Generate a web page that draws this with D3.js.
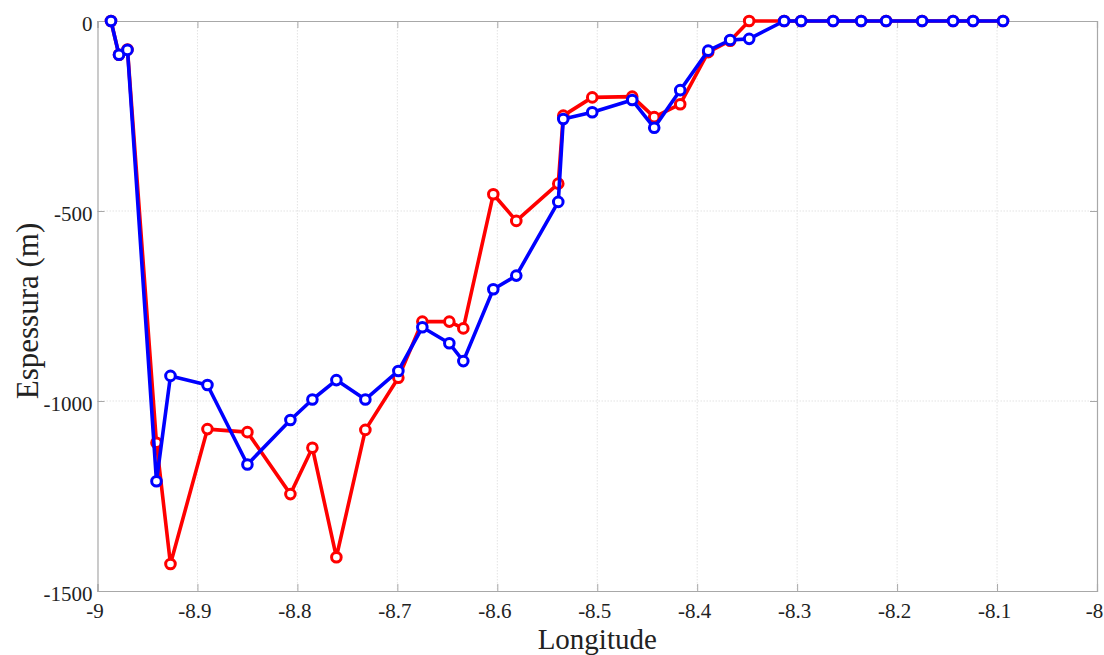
<!DOCTYPE html>
<html>
<head>
<meta charset="utf-8">
<script src="https://cdn.jsdelivr.net/npm/d3@7"></script>
<style>
  body { margin: 0; background: #fff; }
  svg { display: block; }
  text { font-family: "Times New Roman", "Liberation Serif", serif; fill: #222; }
</style>
</head>
<body>
<svg id="chart" width="1104" height="655"></svg>
<script>
// longitudes shared by both profiles
const lon = [-8.9865, -8.9785, -8.970, -8.941, -8.927, -8.890, -8.850, -8.807, -8.785, -8.761,
  -8.732, -8.699, -8.675, -8.648, -8.634, -8.604, -8.581, -8.539, -8.534, -8.505,
  -8.465, -8.443, -8.417, -8.389, -8.367, -8.348, -8.313, -8.296, -8.264, -8.236,
  -8.211, -8.175, -8.144, -8.124, -8.094]

const redDepth = [0, -89, -75, -1110, -1429, -1074, -1082, -1245, -1123, -1411,
  -1076, -939, -791, -791, -809, -456, -526, -428, -249, -201,
  -199, -253, -219, -82, -52, 0, 0, 0, 0, 0,
  0, 0, 0, 0, 0]

const blueDepth = [0, -89, -76, -1211, -934, -958, -1167, -1050, -996, -945,
  -996, -921, -806, -848, -895, -706, -670, -476, -258, -240,
  -208, -281, -182, -78, -50, -47, 0, 0, 0, 0,
  0, 0, 0, 0, 0]

const xTicks = [-9, -8.9, -8.8, -8.7, -8.6, -8.5, -8.4, -8.3, -8.2, -8.1, -8]
const yTicks = [0, -500, -1000, -1500]

const series = [
  { name: 'red', color: '#ff0000', values: redDepth },
  { name: 'blue', color: '#0000ff', values: blueDepth }
]

const svg = d3.select('#chart')
const m = { left: 97.5, right: 1097, top: 21, bottom: 591 }
const serif = '"Times New Roman", "Liberation Serif", serif'
const fmt = d => String(d)  // plain hyphen minus like the original

const x = d3.scaleLinear().domain([-9, -8]).range([m.left, m.right])
const y = d3.scaleLinear().domain([-1500, 0]).range([m.bottom, m.top])

// grid
const grid = svg.append('g')
grid.selectAll('.gx').data(xTicks.slice(1, -1)).enter().append('line')
  .attr('x1', d => x(d)).attr('x2', d => x(d))
  .attr('y1', m.top).attr('y2', m.bottom)
  .attr('stroke', '#e3e3e3').attr('stroke-dasharray', '1.5,1.5')
grid.selectAll('.gy').data(yTicks.slice(1, -1)).enter().append('line')
  .attr('x1', m.left).attr('x2', m.right)
  .attr('y1', d => y(d)).attr('y2', d => y(d))
  .attr('stroke', '#e3e3e3').attr('stroke-dasharray', '1.5,1.5')

// axes (ticks inward, MATLAB style)
const axCol = '#a8a8a8'
const xb = svg.append('g').attr('transform', `translate(0,${m.bottom})`)
  .call(d3.axisBottom(x).tickValues(xTicks).tickSize(-7).tickPadding(7).tickFormat(fmt))
const xt = svg.append('g').attr('transform', `translate(0,${m.top})`)
  .call(d3.axisTop(x).tickValues(xTicks).tickSize(-7).tickFormat(''))
const yl = svg.append('g').attr('transform', `translate(${m.left},0)`)
  .call(d3.axisLeft(y).tickValues(yTicks).tickSize(-7).tickPadding(5).tickFormat(fmt))
const yr = svg.append('g').attr('transform', `translate(${m.right},0)`)
  .call(d3.axisRight(y).tickValues(yTicks).tickSize(-7).tickFormat(''))

;[xb, xt, yl, yr].forEach(g => {
  g.attr('font-family', serif).attr('font-size', 21)
  g.select('.domain').attr('stroke', axCol).attr('stroke-width', 1.2)
  g.selectAll('.tick line').attr('stroke', axCol)
  g.selectAll('.tick text').attr('fill', '#222')
})
xb.selectAll('.tick text').attr('dy', '0.95em').attr('dx', -3)
yl.selectAll('.tick text').attr('dy', '0.45em')

// profiles
const line = d3.line().x((d, i) => x(lon[i])).y(d => y(d))

series.forEach(s => {
  const g = svg.append('g')
  g.append('path')
    .datum(s.values)
    .attr('d', line)
    .attr('fill', 'none')
    .attr('stroke', s.color)
    .attr('stroke-width', 3.6)
    .attr('stroke-linejoin', 'round')
  g.selectAll('circle').data(s.values).enter().append('circle')
    .attr('cx', (d, i) => x(lon[i]))
    .attr('cy', d => y(d))
    .attr('r', 4.8)
    .attr('fill', '#fff')
    .attr('stroke', s.color)
    .attr('stroke-width', 3)
})

// labels
svg.append('text')
  .attr('x', (m.left + m.right) / 2)
  .attr('y', 649)
  .attr('text-anchor', 'middle')
  .attr('font-family', serif)
  .attr('font-size', 29)
  .text('Longitude')

svg.append('text')
  .attr('transform', `translate(38,${(m.top + m.bottom) / 2 + 5}) rotate(-90)`)
  .attr('text-anchor', 'middle')
  .attr('font-family', serif)
  .attr('font-size', 31)
  .text('Espessura (m)')
</script>
</body>
</html>
